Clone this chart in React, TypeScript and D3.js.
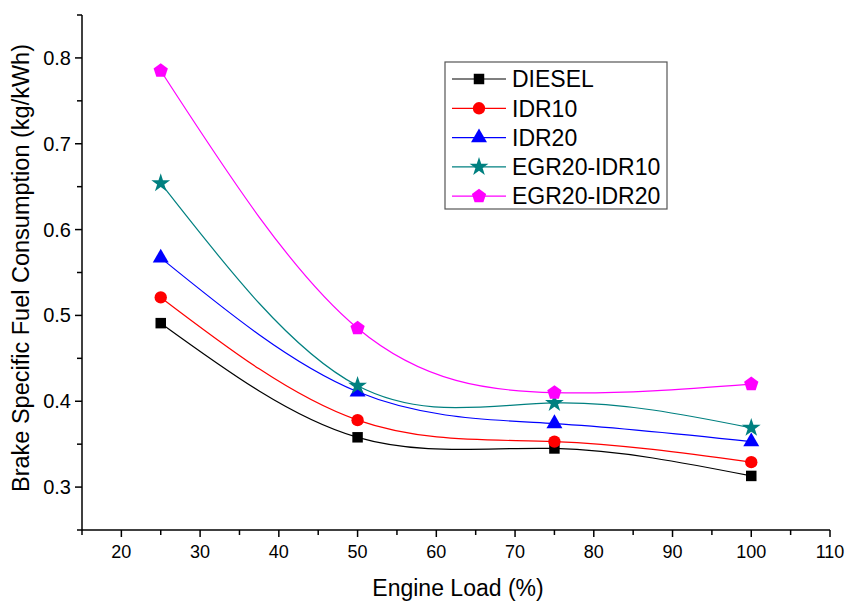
import React, { useEffect, useRef } from "react";
import * as d3 from "d3";

const loads = [25, 50, 75, 100];
const seriesNames = ["DIESEL", "IDR10", "IDR20", "EGR20-IDR10", "EGR20-IDR20"];
const diesel = [0.491, 0.358, 0.345, 0.313];
const idr10 = [0.521, 0.378, 0.353, 0.329];
const idr20 = [0.567, 0.411, 0.374, 0.353];
const egrIdr10 = [0.654, 0.418, 0.398, 0.369];
const egrIdr20 = [0.785, 0.485, 0.41, 0.42];
const colors = ["#000000", "#ff0000", "#0000ff", "#008080", "#ff00ff"];
const markers = ["square", "circle", "triangle", "star", "pentagon"];
const xTicks = [20, 30, 40, 50, 60, 70, 80, 90, 100, 110];
const yTicks = [0.3, 0.4, 0.5, 0.6, 0.7, 0.8];

const FONT = "'Liberation Sans', Arial, sans-serif";

function pentagonPath(r: number) {
  const pts: [number, number][] = [];
  for (let i = 0; i < 5; i++) {
    const a = -Math.PI / 2 + (i * 2 * Math.PI) / 5;
    pts.push([r * Math.cos(a), r * Math.sin(a)]);
  }
  return "M" + pts.map((p) => p.join(",")).join("L") + "Z";
}

function markerPath(kind: string) {
  switch (kind) {
    case "square":
      return d3.symbol(d3.symbolSquare, 110)()!;
    case "circle":
      return d3.symbol(d3.symbolCircle, 120)()!;
    case "triangle":
      return d3.symbol(d3.symbolTriangle, 110)()!;
    case "star":
      return d3.symbol(d3.symbolStar, 110)()!;
    default:
      return pentagonPath(7.5);
  }
}

export default function App() {
  const ref = useRef<SVGSVGElement>(null);
  useEffect(() => {
    const svg = d3.select(ref.current);
    svg.selectAll("*").remove();
    const x = d3.scaleLinear().domain([15, 110]).range([82, 830]);
    const y = d3.scaleLinear().domain([0.25, 0.85]).range([530, 15]);
    const data = [diesel, idr10, idr20, egrIdr10, egrIdr20];

    // axes
    const xAxis = svg.append("g").attr("transform", `translate(0,${y(0.25)})`);
    xAxis.append("line").attr("x1", x(15)).attr("x2", x(110)).attr("stroke", "#000").attr("stroke-width", 1.5);
    d3.range(15, 111, 5).forEach((v) => {
      const major = v % 10 === 0;
      xAxis.append("line").attr("x1", x(v)).attr("x2", x(v)).attr("y1", 0).attr("y2", major ? 7 : 5).attr("stroke", "#000").attr("stroke-width", 1.5);
    });
    xTicks.forEach((v) => {
      xAxis.append("text").attr("x", x(v)).attr("y", 28).attr("text-anchor", "middle")
        .attr("font-family", FONT).attr("font-size", 18).text(v);
    });
    const yAxis = svg.append("g").attr("transform", `translate(${x(15)},0)`);
    yAxis.append("line").attr("y1", y(0.25)).attr("y2", y(0.85)).attr("stroke", "#000").attr("stroke-width", 1.5);
    d3.range(0.25, 0.851, 0.05).forEach((v) => {
      const major = Math.abs(Math.round(v * 10) - v * 10) < 1e-6;
      yAxis.append("line").attr("y1", y(v)).attr("y2", y(v)).attr("x1", 0).attr("x2", major ? -7 : -5).attr("stroke", "#000").attr("stroke-width", 1.5);
    });
    yTicks.forEach((v) => {
      yAxis.append("text").attr("x", -11).attr("y", y(v)).attr("dy", "0.35em").attr("text-anchor", "end")
        .attr("font-family", FONT).attr("font-size", 20).text(v.toFixed(1));
    });

    // titles
    svg.append("text").attr("x", 458).attr("y", 596).attr("text-anchor", "middle")
      .attr("font-family", FONT).attr("font-size", 23).text("Engine Load (%)");
    svg.append("text").attr("transform", `translate(29,268) rotate(-90)`).attr("text-anchor", "middle")
      .attr("font-family", FONT).attr("font-size", 23.5).text("Brake Specific Fuel Consumption (kg/kWh)");

    // lines
    const line = d3.line<number>().x((_, i) => x(loads[i])).y((d) => y(d)).curve(d3.curveNatural);
    data.forEach((vals, si) => {
      svg.append("path").attr("d", line(vals)!).attr("fill", "none").attr("stroke", colors[si]).attr("stroke-width", 1.2);
    });
    data.forEach((vals, si) => {
      vals.forEach((v, i) => {
        svg.append("path").attr("d", markerPath(markers[si]))
          .attr("transform", `translate(${x(loads[i])},${y(v)})`).attr("fill", colors[si]);
      });
    });

    // legend
    const lg = svg.append("g");
    lg.append("rect").attr("x", 445).attr("y", 62).attr("width", 222).attr("height", 147)
      .attr("fill", "#fff").attr("stroke", "#555").attr("stroke-width", 1.2);
    seriesNames.forEach((name, i) => {
      const cy = 79 + i * 29.3;
      lg.append("line").attr("x1", 452).attr("x2", 506).attr("y1", cy).attr("y2", cy).attr("stroke", colors[i]).attr("stroke-width", 1.2);
      lg.append("path").attr("d", markerPath(markers[i])).attr("transform", `translate(479,${cy})`).attr("fill", colors[i]);
      lg.append("text").attr("x", 512).attr("y", cy).attr("dy", "0.36em").attr("font-family", FONT)
        .attr("font-size", 23).text(name);
    });
  }, []);
  return <svg ref={ref} width={850} height={601} style={{ display: "block", position: "absolute", left: 0, top: 0, background: "#fff" }} />;
}
